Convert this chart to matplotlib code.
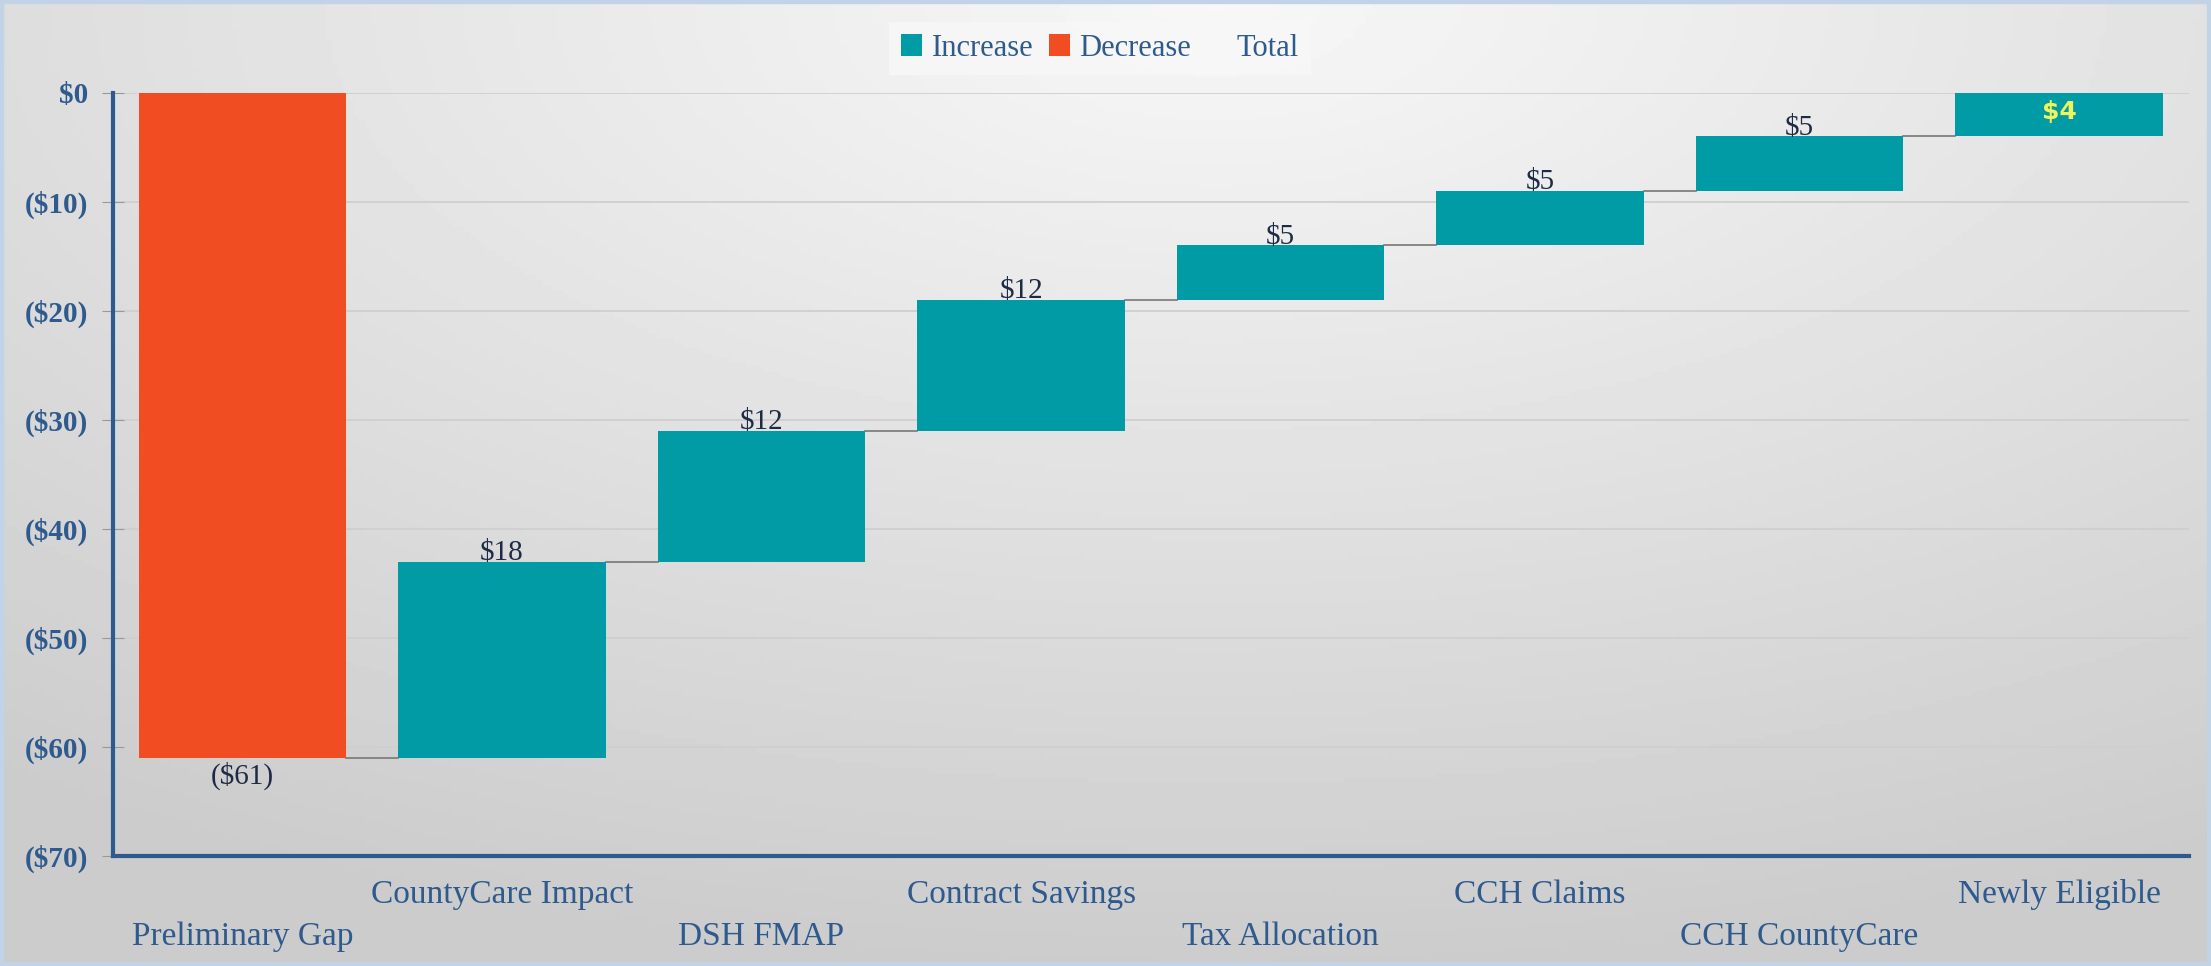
import numpy as np
import matplotlib.pyplot as plt
from matplotlib.patches import Patch

plt.rcParams['font.family'] = ['Liberation Serif', 'DejaVu Serif']

# data
categories = ['Preliminary Gap', 'CountyCare Impact', 'DSH FMAP', 'Contract Savings',
              'Tax Allocation', 'CCH Claims', 'CCH CountyCare', 'Newly Eligible']
changes = [-61, 18, 12, 12, 5, 5, 5, 4]
bar_labels = ['($61)', '$18', '$12', '$12', '$5', '$5', '$5', '$4']
y_ticks = [0, -10, -20, -30, -40, -50, -60, -70]
y_tick_labels = ['$0', '($10)', '($20)', '($30)', '($40)', '($50)', '($60)', '($70)']

teal = '#009BA5'
orange = '#F04D23'
navy = '#2E5A8E'
text_dark = '#1E2B45'

ends = np.cumsum(changes)
starts = ends - np.array(changes)
bottoms = np.minimum(starts, ends)
heights = np.abs(changes)
colors = [orange if c < 0 else teal for c in changes]

fig = plt.figure(figsize=(22.11, 9.66), dpi=100)

# background gradient + light blue border
bg = fig.add_axes([0, 0, 1, 1], zorder=-10)
yy, xx = np.mgrid[0:1:200j, 0:1:400j]
dist = np.sqrt(((xx - 0.55) * 1.1) ** 2 + (yy * 1.0) ** 2)
shade = np.clip(0.97 - 0.17 * dist, 0.80, 0.97)
bg.imshow(shade, cmap='gray', vmin=0, vmax=1, aspect='auto', extent=[0, 1, 0, 1],
          origin='upper')
bg.set_xlim(0, 1)
bg.set_ylim(0, 1)
for s in bg.spines.values():
    s.set_edgecolor('#C3D3E6')
    s.set_linewidth(6)
bg.set_xticks([])
bg.set_yticks([])

ax = fig.add_axes([0.051, 0.114, 0.939, 0.790])
ax.set_facecolor('none')

x = np.arange(len(categories))
ax.bar(x, heights, bottom=bottoms, width=0.8, color=colors, zorder=3, clip_on=False)

# connectors
for i in range(len(categories) - 1):
    ax.plot([x[i] + 0.4, x[i + 1] - 0.4], [ends[i], ends[i]], color='#777777',
            linewidth=1.2, zorder=2)

# value labels
for i, c in enumerate(changes):
    if c < 0:
        ax.annotate(bar_labels[i], (x[i], bottoms[i]), xytext=(0, -3),
                    textcoords='offset points', ha='center', va='top',
                    fontsize=21, color=text_dark)
    elif i == len(changes) - 1:
        ax.text(x[i], bottoms[i] + heights[i] / 2 + 0.2, bar_labels[i], ha='center',
                va='center', fontsize=18, color='#F2F25A', fontweight='bold',
                family='DejaVu Sans', zorder=4)
    else:
        ax.annotate(bar_labels[i], (x[i], bottoms[i] + heights[i]), xytext=(0, -3),
                    textcoords='offset points', ha='center', va='bottom',
                    fontsize=21, color=text_dark, zorder=4)

ax.set_xlim(-0.5, 7.5)
ax.set_ylim(-70, 0)
ax.set_yticks(y_ticks)
ax.set_yticklabels(y_tick_labels, fontsize=21, color=navy, fontweight='bold')
ax.grid(axis='y', color='#CFCFCF', linewidth=1.3, zorder=0)
ax.set_axisbelow(True)
ax.tick_params(axis='y', direction='inout', length=16, color='#999999', pad=10)

ax.set_xticks(x)
ax.set_xticklabels([])
ax.tick_params(axis='x', length=0)
for i, name in enumerate(categories):
    offset = -58 if i % 2 == 0 else -28
    ax.annotate(name, (x[i], -70), xytext=(0, offset), textcoords='offset points',
                ha='center', va='center', fontsize=24, color=navy)

for side in ['top', 'right']:
    ax.spines[side].set_visible(False)
for side in ['left', 'bottom']:
    ax.spines[side].set_color(navy)
    ax.spines[side].set_linewidth(3)

handles = [Patch(facecolor=teal, edgecolor='none'),
           Patch(facecolor=orange, edgecolor='none'),
           Patch(facecolor='none', edgecolor='none')]
leg = fig.legend(handles, ['Increase', 'Decrease', 'Total'], loc='center',
                 bbox_to_anchor=(0.4975, 0.95), ncol=3, frameon=True, fontsize=22,
                 handlelength=0.7, handleheight=0.7, handletextpad=0.3,
                 columnspacing=0.5, fancybox=False)
leg.get_frame().set_facecolor('#F8F8F8')
leg.get_frame().set_edgecolor('none')
for t in leg.get_texts():
    t.set_color(navy)

fig.savefig('out.png', dpi=100)
